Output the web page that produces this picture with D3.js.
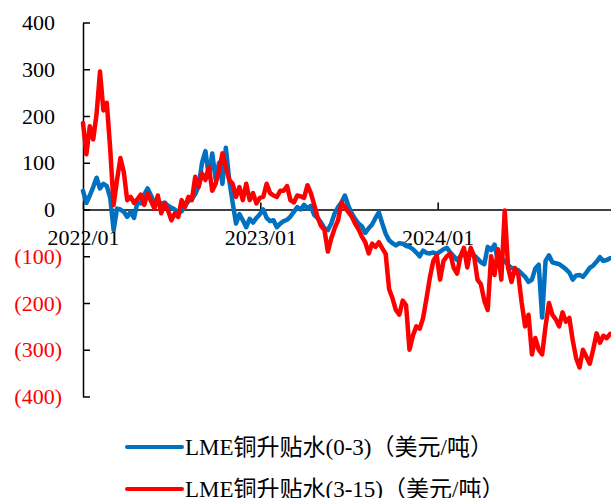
<!DOCTYPE html>
<html>
<head>
<meta charset="utf-8">
<script src="https://cdn.jsdelivr.net/npm/d3@7"></script>
<style>
  html, body { margin: 0; padding: 0; background: #fff; }
  svg { display: block; }
</style>
</head>
<body>
<svg id="chart" width="611" height="498"></svg>
<script>
// Weekly LME copper spreads, USD/t, starting from the first week of 2022
const startDate = new Date(2022, 0, 1);
const spread03 = [
  40, 14, 30, 48, 68, 45, 55, 50, 25, -44,
  2, 0, -5, -16, -5, -18, 15, 13, 32, 45,
  30, 14, 20, 12, 15, 8, 4, 0, -8, -4,
  8, 18, 22, 33, 50, 100, 125, 70, 120, 65,
  100, 55, 132, 63, 15, -30, -10, -23, -38, -20,
  -28, -18, -10, 0, -18, -25, -23, -38, -30, -25,
  -22, -15, -5, 5, 0, 10, 2, 8, -12, -18,
  -28, -40, -44, -30, -8, 5, 15, 30, 8, -8,
  -20, -30, -36, -50, -40, -32, -18, -6, -30, -52,
  -66, -72, -77, -72, -73, -78, -80, -85, -92, -100,
  -88, -93, -94, -92, -95, -90, -85, -82, -92, -100,
  -108, -100, -95, -94, -96, -98, -105, -113, -117, -80,
  -87, -75, -110, -104, -110, -119, -125, -128, -130, -137,
  -144, -155, -150, -126, -118, -231, -110, -98, -113, -115,
  -117, -122, -128, -135, -150, -141, -140, -144, -135, -125,
  -120, -112, -102, -110, -108, -104
];
const spread315 = [
  185, 118, 178, 150, 205, 295, 212, 228, 130, 10,
  63, 110, 80, 20, 27, 14, 22, 32, 10, 35,
  18, 2, 30, -8, 13, -2, -23, -8, -16, 20,
  5, 27, 20, 70, 48, 77, 63, 91, 40, 55,
  84, 120, 91, 63, 55, 27, 48, 20, 55, 20,
  35, 13, 25, 27, 55, 35, 30, 27, 40, 40,
  50, 20, 15, 30, 28, 25, 52, 35, 10, -18,
  -35, -44, -90, -62, -40, -23, 15, 5, -5, -15,
  -30, -42, -58, -70, -94, -73, -80, -70, -83, -95,
  -170, -190, -215, -225, -195, -205, -300, -270, -250, -255,
  -232, -190, -145, -110, -98, -150, -110, -100, -94, -125,
  -137, -100, -82, -124, -82, -100, -150, -160, -195, -215,
  -100, -140, -85, -150, -2, -125, -155, -125, -140, -200,
  -250, -225, -310, -275, -300, -310, -250, -200, -225, -235,
  -250, -220, -240, -232, -280, -318, -338, -300, -315, -330,
  -300, -265, -285, -270, -275, -266
];
const yTicks = [400, 300, 200, 100, 0, -100, -200, -300, -400];
const xTickLabels = ["2022/01", "2023/01", "2024/01"];
const seriesNames = ["LME铜升贴水(0-3)（美元/吨）", "LME铜升贴水(3-15)（美元/吨）"];
const seriesColors = ["#0070C0", "#FF0000"];

const latinFont = "'Liberation Serif', 'Times New Roman', serif";
const mixedFont = "'Liberation Serif', 'Noto Sans CJK SC', serif";

const weeks = d3.timeDay.range(startDate, d3.timeDay.offset(startDate, 7 * spread03.length), 7);
const series = [spread03, spread315].map((vals, k) => ({
  name: seriesNames[k],
  color: seriesColors[k],
  points: vals.map((v, i) => ({ date: weeks[i], value: v }))
}));

const svg = d3.select("#chart");
const x = d3.scaleTime()
  .domain([new Date(2022, 0, 1), new Date(2025, 0, 1)])
  .range([83, 615.5]);
const y = d3.scaleLinear().domain([-400, 400]).range([396.5, 22.5]);

// value axis: line with inward ticks, labels drawn separately
const yAxis = svg.append("g")
  .attr("transform", "translate(83,0)")
  .call(d3.axisLeft(y).tickValues(yTicks).tickSize(-7).tickSizeOuter(0).tickFormat(""));
yAxis.select(".domain").attr("stroke", "#000").attr("stroke-width", 1.5);
yAxis.selectAll(".tick line").attr("stroke", "#000").attr("stroke-width", 1.5);

svg.append("g").selectAll("text")
  .data(yTicks)
  .join("text")
  .attr("x", d => d < 0 ? 62 : 55)
  .attr("y", d => y(d))
  .attr("dy", "0.35em")
  .attr("text-anchor", "end")
  .attr("font-family", latinFont)
  .attr("font-size", 22)
  .attr("fill", d => d < 0 ? "#FF0000" : "#000")
  .text(d => d < 0 ? "(" + d3.format(",")(-d) + ")" : d3.format(",")(d));

// time axis along zero
const yearTicks = xTickLabels.map(s => d3.timeParse("%Y/%m")(s));
const xAxis = svg.append("g")
  .attr("transform", `translate(0,${y(0)})`)
  .call(d3.axisBottom(x).tickValues(yearTicks).tickSize(-7).tickSizeOuter(0)
    .tickPadding(20).tickFormat(d3.timeFormat("%Y/%m")));
xAxis.attr("font-family", latinFont).attr("font-size", 22);
xAxis.select(".domain").attr("stroke", "#000").attr("stroke-width", 1.5);
xAxis.selectAll(".tick line").attr("stroke", "#000").attr("stroke-width", 1.5);
xAxis.selectAll(".tick text")
  .attr("font-size", 22)
  .attr("fill", "#000")
  .attr("font-family", latinFont);

// series
const line = d3.line().x(d => x(d.date)).y(d => y(d.value));
svg.append("g").selectAll("path")
  .data(series)
  .join("path")
  .attr("d", d => line(d.points))
  .attr("fill", "none")
  .attr("stroke", d => d.color)
  .attr("stroke-width", 4.5)
  .attr("stroke-linejoin", "round")
  .attr("stroke-linecap", "round");

// legend
const legend = svg.append("g").selectAll("g")
  .data(series)
  .join("g")
  .attr("transform", (d, i) => `translate(127,${447 + i * 42})`);
legend.append("line")
  .attr("x1", 0).attr("x2", 55)
  .attr("stroke", d => d.color)
  .attr("stroke-width", 4)
  .attr("stroke-linecap", "round");
legend.append("text")
  .attr("x", 58)
  .attr("dy", "0.35em")
  .attr("font-family", mixedFont)
  .attr("font-size", 23)
  .attr("fill", "#000")
  .text(d => d.name);
</script>
</body>
</html>
